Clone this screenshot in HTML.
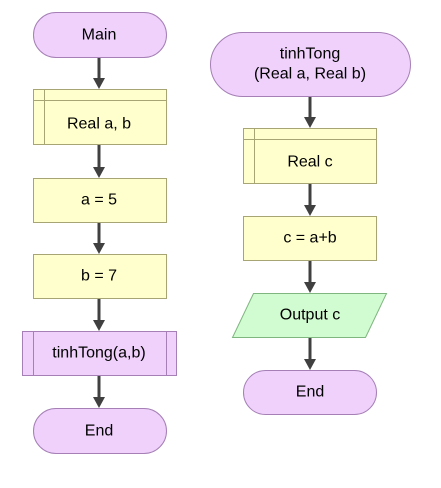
<!DOCTYPE html>
<html><head><style>
body{margin:0;width:441px;height:483px;background:#fff;overflow:hidden}
svg text{font-family:"Liberation Sans",Arial,sans-serif;font-size:16px;fill:#000;text-anchor:middle;dominant-baseline:central}
</style></head><body>
<svg width="441" height="483" xmlns="http://www.w3.org/2000/svg">
<g stroke="#404040" stroke-width="3">
<line x1="99" y1="57" x2="99" y2="80"/>
<line x1="99" y1="144" x2="99" y2="169"/>
<line x1="99" y1="222" x2="99" y2="245"/>
<line x1="99" y1="298" x2="99" y2="322"/>
<line x1="99" y1="375" x2="99" y2="399"/>
<line x1="310" y1="96" x2="310" y2="119"/>
<line x1="310" y1="183" x2="310" y2="207"/>
<line x1="310" y1="260" x2="310" y2="284"/>
<line x1="310" y1="337" x2="310" y2="361"/>
</g>
<g fill="#404040">
<polygon points="93,78 105,78 99,89"/>
<polygon points="93,167 105,167 99,178"/>
<polygon points="93,243 105,243 99,254"/>
<polygon points="93,320 105,320 99,331"/>
<polygon points="93,397 105,397 99,408"/>
<polygon points="304,117 316,117 310,128"/>
<polygon points="304,205 316,205 310,216"/>
<polygon points="304,282 316,282 310,293"/>
<polygon points="304,359 316,359 310,370"/>
</g>
<g stroke-width="1">
<rect x="33.5" y="12.5" width="133" height="45" rx="22.5" fill="#efd1fb" stroke="#a57fb5"/>
<rect x="33.5" y="89.5" width="133" height="55" fill="#ffffcd" stroke="#a8a574"/>
<line x1="44.5" y1="89.5" x2="44.5" y2="144.5" stroke="#a8a574"/>
<line x1="33.5" y1="100.5" x2="166.5" y2="100.5" stroke="#a8a574"/>
<rect x="33.5" y="178.5" width="133" height="44" fill="#ffffcd" stroke="#a8a574"/>
<rect x="33.5" y="254.5" width="133" height="44" fill="#ffffcd" stroke="#a8a574"/>
<rect x="22.5" y="331.5" width="154" height="44" fill="#efd1fb" stroke="#a57fb5"/>
<line x1="33.5" y1="331.5" x2="33.5" y2="375.5" stroke="#a57fb5"/>
<line x1="166.5" y1="331.5" x2="166.5" y2="375.5" stroke="#a57fb5"/>
<rect x="33.5" y="408.5" width="133" height="45" rx="22.5" fill="#efd1fb" stroke="#a57fb5"/>
<rect x="210.5" y="32.5" width="200" height="64" rx="32" fill="#efd1fb" stroke="#a57fb5"/>
<rect x="243.5" y="128.5" width="133" height="55" fill="#ffffcd" stroke="#a8a574"/>
<line x1="254.5" y1="128.5" x2="254.5" y2="183.5" stroke="#a8a574"/>
<line x1="243.5" y1="139.5" x2="376.5" y2="139.5" stroke="#a8a574"/>
<rect x="243.5" y="216.5" width="133" height="44" fill="#ffffcd" stroke="#a8a574"/>
<polygon points="253.5,293.5 386.5,293.5 365.5,337.5 232.5,337.5" fill="#d1fbd1" stroke="#7fb57f"/>
<rect x="243.5" y="370.5" width="133" height="44" rx="22" fill="#efd1fb" stroke="#a57fb5"/>
</g>
<text x="99" y="35">Main</text>
<text x="99" y="124">Real a, b</text>
<text x="99" y="200">a = 5</text>
<text x="99" y="276">b = 7</text>
<text x="99" y="353">tinhTong(a,b)</text>
<text x="99" y="431">End</text>
<text x="310" y="54">tinhTong</text>
<text x="310" y="74">(Real a, Real b)</text>
<text x="310" y="162">Real c</text>
<text x="310" y="238">c = a+b</text>
<text x="310" y="315">Output c</text>
<text x="310" y="392">End</text>
</svg>
</body></html>
